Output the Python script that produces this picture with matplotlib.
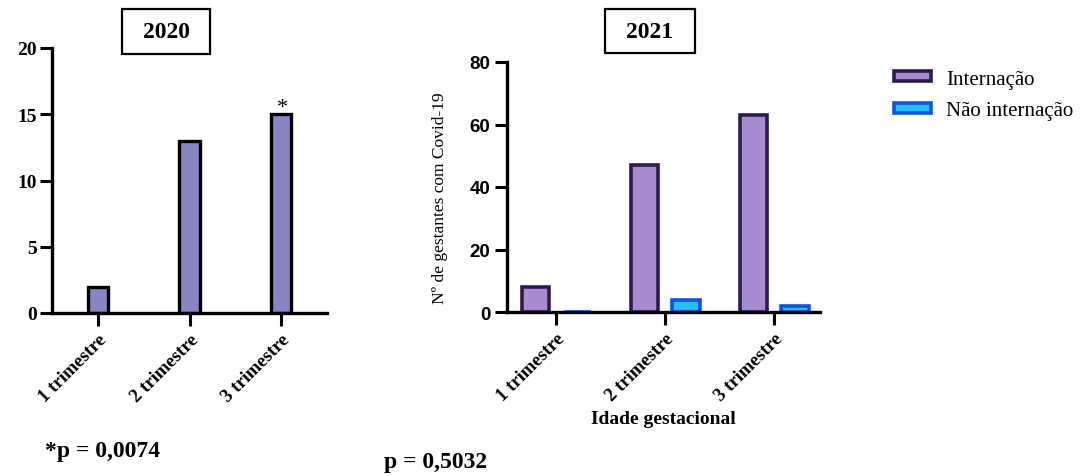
import matplotlib
matplotlib.use('Agg')
import matplotlib.pyplot as plt
from matplotlib.patches import Patch, Rectangle

# counts of pregnant women with Covid-19 per gestational trimester
trimestres = ['1 trimestre', '2 trimestre', '3 trimestre']
casos_2020 = [2, 13, 15]
internacao_2021 = [8, 47, 63]
nao_internacao_2021 = [0, 4, 2]

serif = ['Liberation Serif', 'DejaVu Serif']
sans = ['Liberation Sans', 'DejaVu Sans']

W, H = 1088, 477
fig = plt.figure(figsize=(W / 100, H / 100), dpi=100)

def style_axis(ax, tickfont):
    for s in ['top', 'right']:
        ax.spines[s].set_visible(False)
    for s in ['left', 'bottom']:
        ax.spines[s].set_linewidth(2.4)
    ax.tick_params(axis='both', length=9, width=2.2, direction='out')
    for lab in ax.get_yticklabels():
        lab.set_family(tickfont)
        lab.set_fontweight('bold')

# 2020 panel
ax1 = fig.add_axes([52 / W, 1 - 314 / H, 275 / W, 265 / H])
x = range(len(trimestres))
ax1.bar(x, casos_2020, width=0.22, color='#8785c2', edgecolor='black', linewidth=2.4)
ax1.set_xlim(-0.5, 2.5)
ax1.set_ylim(0, 20)
ax1.set_yticks([0, 5, 10, 15, 20])
ax1.set_xticks(list(x))
ax1.set_xticklabels(trimestres, rotation=45, ha='right', rotation_mode='anchor',
                    family=serif, fontweight='bold', fontsize=13.5)
ax1.tick_params(axis='y', labelsize=14, pad=2)
style_axis(ax1, serif)
ax1.annotate('*', (2, casos_2020[2]), xytext=(1, -2), textcoords='offset points',
             ha='center', va='bottom', fontsize=16, family=serif)

# 2021 panel
ax2 = fig.add_axes([507 / W, 1 - 313 / H, 313 / W, 250 / H])
w = 0.25
off = 0.19
ax2.bar([i - off for i in x], internacao_2021, width=w, color='#a68bd1',
        edgecolor='#2e1a4f', linewidth=2.6)
ax2.bar([i + off for i in x], nao_internacao_2021, width=w, color='#1fc1f5',
        edgecolor='#1050e8', linewidth=2.6)
ax2.set_xlim(-0.454, 2.42)
ax2.set_ylim(0, 80)
ax2.set_yticks([0, 20, 40, 60, 80])
ax2.set_xticks(list(x))
ax2.set_xticklabels(trimestres, rotation=45, ha='right', rotation_mode='anchor',
                    family=serif, fontweight='bold', fontsize=13.5)
ax2.tick_params(axis='y', labelsize=13.5, pad=3)
style_axis(ax2, sans)
ax2.set_ylabel('Nº de gestantes com Covid-19', family=serif, fontsize=12.5)
ax2.yaxis.set_label_coords(-0.19, 0.46)
ax2.set_xlabel('Idade gestacional', family=serif, fontweight='bold', fontsize=14, labelpad=5)

# year boxes
for (x0, y0, x1, y1), year in [((122, 10, 210, 55), '2020'), ((605, 10, 695, 54), '2021')]:
    fig.patches.append(Rectangle((x0 / W, 1 - y1 / H), (x1 - x0) / W, (y1 - y0) / H,
                                 transform=fig.transFigure, facecolor='white',
                                 edgecolor='black', linewidth=1.6))
    fig.text((x0 + x1) / 2 / W, 1 - (y0 + y1) / 2 / H, year, ha='center', va='center',
             family=serif, fontweight='bold', fontsize=17)

# p-values
fig.text(45 / W, 1 - 452 / H, '*p = 0,0074', ha='left', va='center', family=serif,
         fontweight='bold', fontsize=17)
fig.text(384 / W, 1 - 463 / H, 'p = 0,5032', ha='left', va='center', family=serif,
         fontweight='bold', fontsize=17)

handles = [Patch(facecolor='#a68bd1', edgecolor='#2e1a4f', linewidth=2.6, label='Internação'),
           Patch(facecolor='#1fc1f5', edgecolor='#1050e8', linewidth=2.6, label='Não internação')]
fig.legend(handles=handles, loc='upper left', bbox_to_anchor=(875 / W, 1 - 52 / H),
           frameon=False, prop={'family': serif, 'size': 15}, handlelength=1.8,
           handleheight=0.35, handletextpad=0.7, labelspacing=0.6)

fig.savefig('out.png', dpi=100)
